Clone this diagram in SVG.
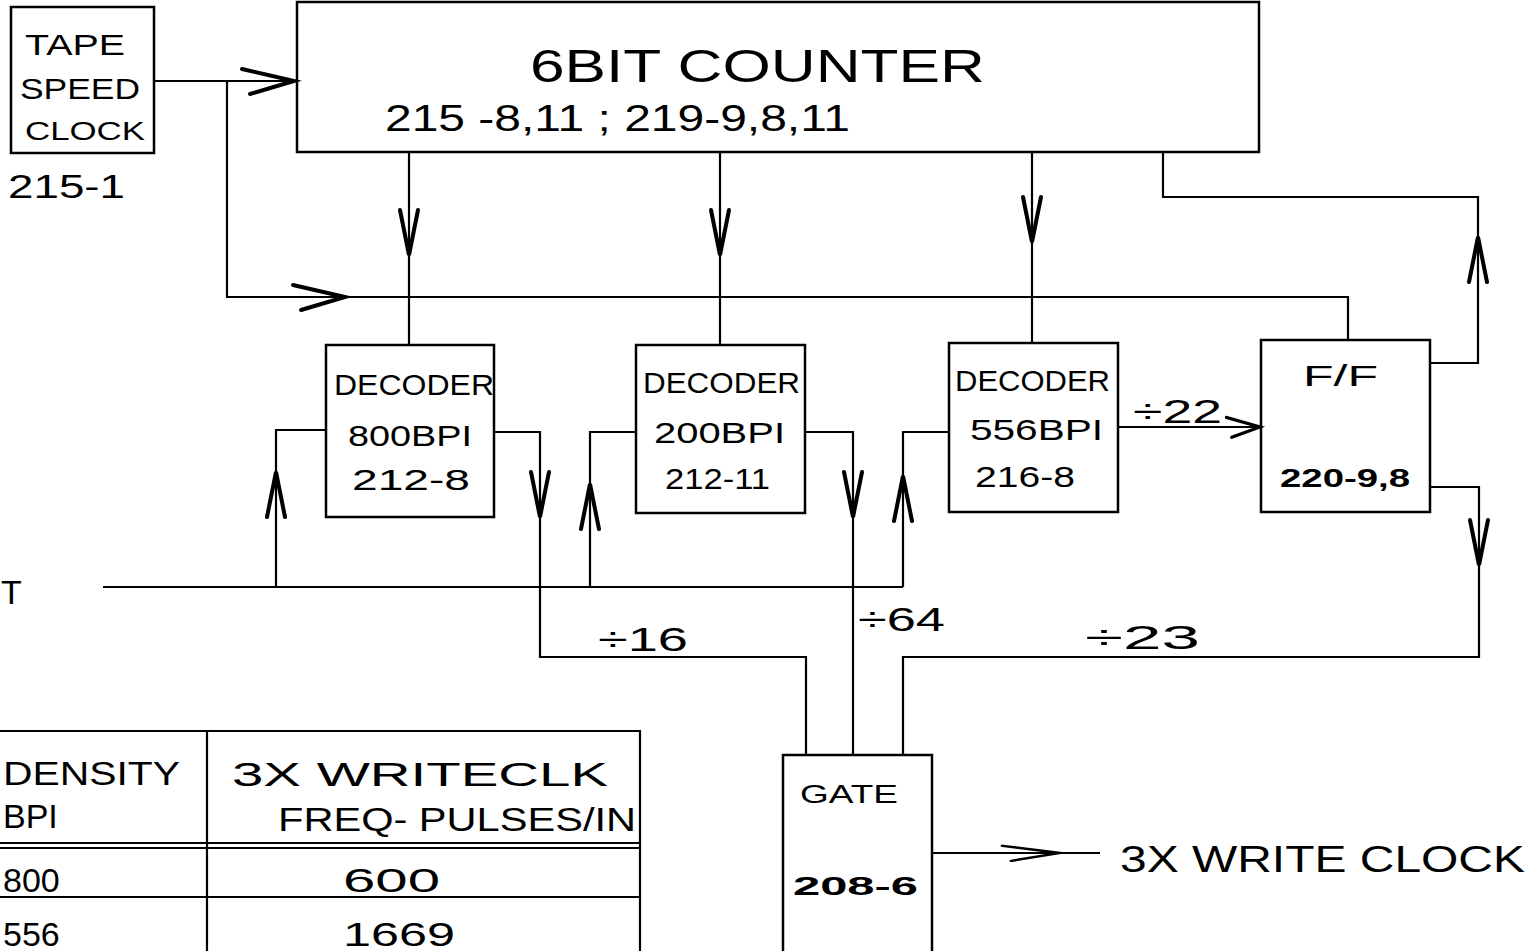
<svg xmlns="http://www.w3.org/2000/svg" width="1531" height="951" viewBox="0 0 1531 951">
<style>
.box{fill:none;stroke:#000;stroke-width:2.5}
.ln{fill:none;stroke:#000;stroke-width:2.2}
.ah{fill:none;stroke:#000;stroke-width:4;stroke-linecap:round;stroke-linejoin:miter}
text{font-family:"Liberation Sans",Arial,sans-serif;fill:#000}
.t{font-size:30px}
.m{font-size:34px}
.s{font-size:26px}
</style>
<defs>
<path id="dn" d="M-9,-45 L0,0 L9,-45"/>
<path id="rt" d="M-52,-12 L0,0 L-44,13"/>
</defs>
<rect width="1531" height="951" fill="#fff"/>

<g id="connectors">
<path class="ln" d="M154,81 H297"/>
<path class="ln" d="M227,81 V297 H1348 V340"/>
<path class="ln" d="M409,152 V345"/>
<path class="ln" d="M720,152 V345"/>
<path class="ln" d="M1032,152 V343"/>
<path class="ln" d="M1163,152 V197 H1478 V363 H1430"/>
<path class="ln" d="M326,430 H276 V587"/>
<path class="ln" d="M636,432 H590 V587"/>
<path class="ln" d="M949,432 H903 V587"/>
<path class="ln" d="M103,587 H903"/>
<path class="ln" d="M494,432 H540 V657 H806 V755"/>
<path class="ln" d="M805,432 H853 V755"/>
<path class="ln" d="M1118,427 H1261"/>
<path class="ln" d="M1430,487 H1479 V657 H903 V755"/>
<path class="ln" d="M932,853 H1100"/>
<use href="#rt" class="ah" transform="translate(294,81)"/>
<use href="#rt" class="ah" transform="translate(345,297)"/>
<use href="#dn" class="ah" transform="translate(409,255)"/>
<use href="#dn" class="ah" transform="translate(720,255)"/>
<use href="#dn" class="ah" transform="translate(1032,242)"/>
<use href="#dn" class="ah" transform="translate(1478,237) rotate(180)"/>
<use href="#dn" class="ah" transform="translate(276,472) rotate(180)"/>
<use href="#dn" class="ah" transform="translate(590,484) rotate(180)"/>
<use href="#dn" class="ah" transform="translate(903,476) rotate(180)"/>
<use href="#dn" class="ah" transform="translate(540,517)"/>
<use href="#dn" class="ah" transform="translate(853,517)"/>
<use href="#dn" class="ah" transform="translate(1479,565)"/>
<use href="#rt" class="ah" transform="translate(1260,427) scale(0.65,0.8)"/>
<use href="#rt" class="ah" transform="translate(1060,853) scale(1.1,0.6)"/>
<text class="m" x="1133" y="423" textLength="89" lengthAdjust="spacingAndGlyphs">÷22</text>
<text class="m" x="598" y="651" textLength="90" lengthAdjust="spacingAndGlyphs">÷16</text>
<text class="m" x="858" y="631" textLength="87" lengthAdjust="spacingAndGlyphs">÷64</text>
<text class="m" x="1085" y="649" textLength="115" lengthAdjust="spacingAndGlyphs">÷23</text>
<text class="m" x="1" y="604">T</text>
</g>

<g id="clock">
<rect class="box" x="11" y="7" width="143" height="146"/>
<text class="t" x="25" y="55" textLength="100" lengthAdjust="spacingAndGlyphs">TAPE</text>
<text class="t" x="20" y="99" textLength="120" lengthAdjust="spacingAndGlyphs">SPEED</text>
<text class="s" x="25" y="140" textLength="120" lengthAdjust="spacingAndGlyphs">CLOCK</text>
<text class="m" x="8" y="198" textLength="117" lengthAdjust="spacingAndGlyphs">215-1</text>
</g>

<g id="counter">
<rect class="box" x="297" y="2" width="962" height="150"/>
<text x="530" y="82" font-size="46" textLength="455" lengthAdjust="spacingAndGlyphs">6BIT  COUNTER</text>
<text x="385" y="131" font-size="36" textLength="465" lengthAdjust="spacingAndGlyphs">215 -8,11 ;  219-9,8,11</text>
</g>

<g id="decoder800">
<rect class="box" x="326" y="345" width="168" height="172"/>
<text class="t" x="334" y="395" textLength="160" lengthAdjust="spacingAndGlyphs">DECODER</text>
<text class="t" x="348" y="446" textLength="124" lengthAdjust="spacingAndGlyphs">800BPI</text>
<text class="t" x="352" y="490" textLength="118" lengthAdjust="spacingAndGlyphs">212-8</text>
</g>

<g id="decoder200">
<rect class="box" x="636" y="345" width="169" height="168"/>
<text class="t" x="643" y="393" textLength="157" lengthAdjust="spacingAndGlyphs">DECODER</text>
<text class="t" x="654" y="443" textLength="131" lengthAdjust="spacingAndGlyphs">200BPI</text>
<text class="t" x="665" y="489" textLength="105" lengthAdjust="spacingAndGlyphs">212-11</text>
</g>

<g id="decoder556">
<rect class="box" x="949" y="343" width="169" height="169"/>
<text class="t" x="955" y="391" textLength="155" lengthAdjust="spacingAndGlyphs">DECODER</text>
<text class="t" x="970" y="440" textLength="133" lengthAdjust="spacingAndGlyphs">556BPI</text>
<text class="t" x="975" y="487" textLength="100" lengthAdjust="spacingAndGlyphs">216-8</text>
</g>

<g id="flipflop">
<rect class="box" x="1261" y="340" width="169" height="172"/>
<text class="t" x="1303" y="386" textLength="75" lengthAdjust="spacingAndGlyphs">F/F</text>
<text class="s" x="1280" y="487" textLength="130" lengthAdjust="spacingAndGlyphs" font-weight="bold">220-9,8</text>
</g>

<g id="gate">
<rect class="box" x="783" y="755" width="149" height="200"/>
<text class="s" x="800" y="803" textLength="98" lengthAdjust="spacingAndGlyphs">GATE</text>
<text class="s" x="793" y="895" textLength="125" lengthAdjust="spacingAndGlyphs" font-weight="bold">208-6</text>
</g>

<g id="output">
<text x="1120" y="872" font-size="36" textLength="405" lengthAdjust="spacingAndGlyphs">3X WRITE CLOCK</text>
</g>

<g id="table">
<path class="ln" d="M0,731 H640 V955 M207,731 V955 M0,843 H640 M0,848 H640 M0,897 H640"/>
<text class="m" x="3" y="785" textLength="177" lengthAdjust="spacingAndGlyphs">DENSITY</text>
<text class="m" x="3" y="828">BPI</text>
<text class="m" x="232" y="786" textLength="376" lengthAdjust="spacingAndGlyphs">3X WRITECLK</text>
<text class="m" x="278" y="831" textLength="358" lengthAdjust="spacingAndGlyphs">FREQ- PULSES/IN</text>
<text class="m" x="3" y="892">800</text>
<text class="m" x="343" y="892" textLength="97" lengthAdjust="spacingAndGlyphs">600</text>
<text class="m" x="3" y="946">556</text>
<text class="m" x="343" y="946" textLength="112" lengthAdjust="spacingAndGlyphs">1669</text>
</g>
</svg>
